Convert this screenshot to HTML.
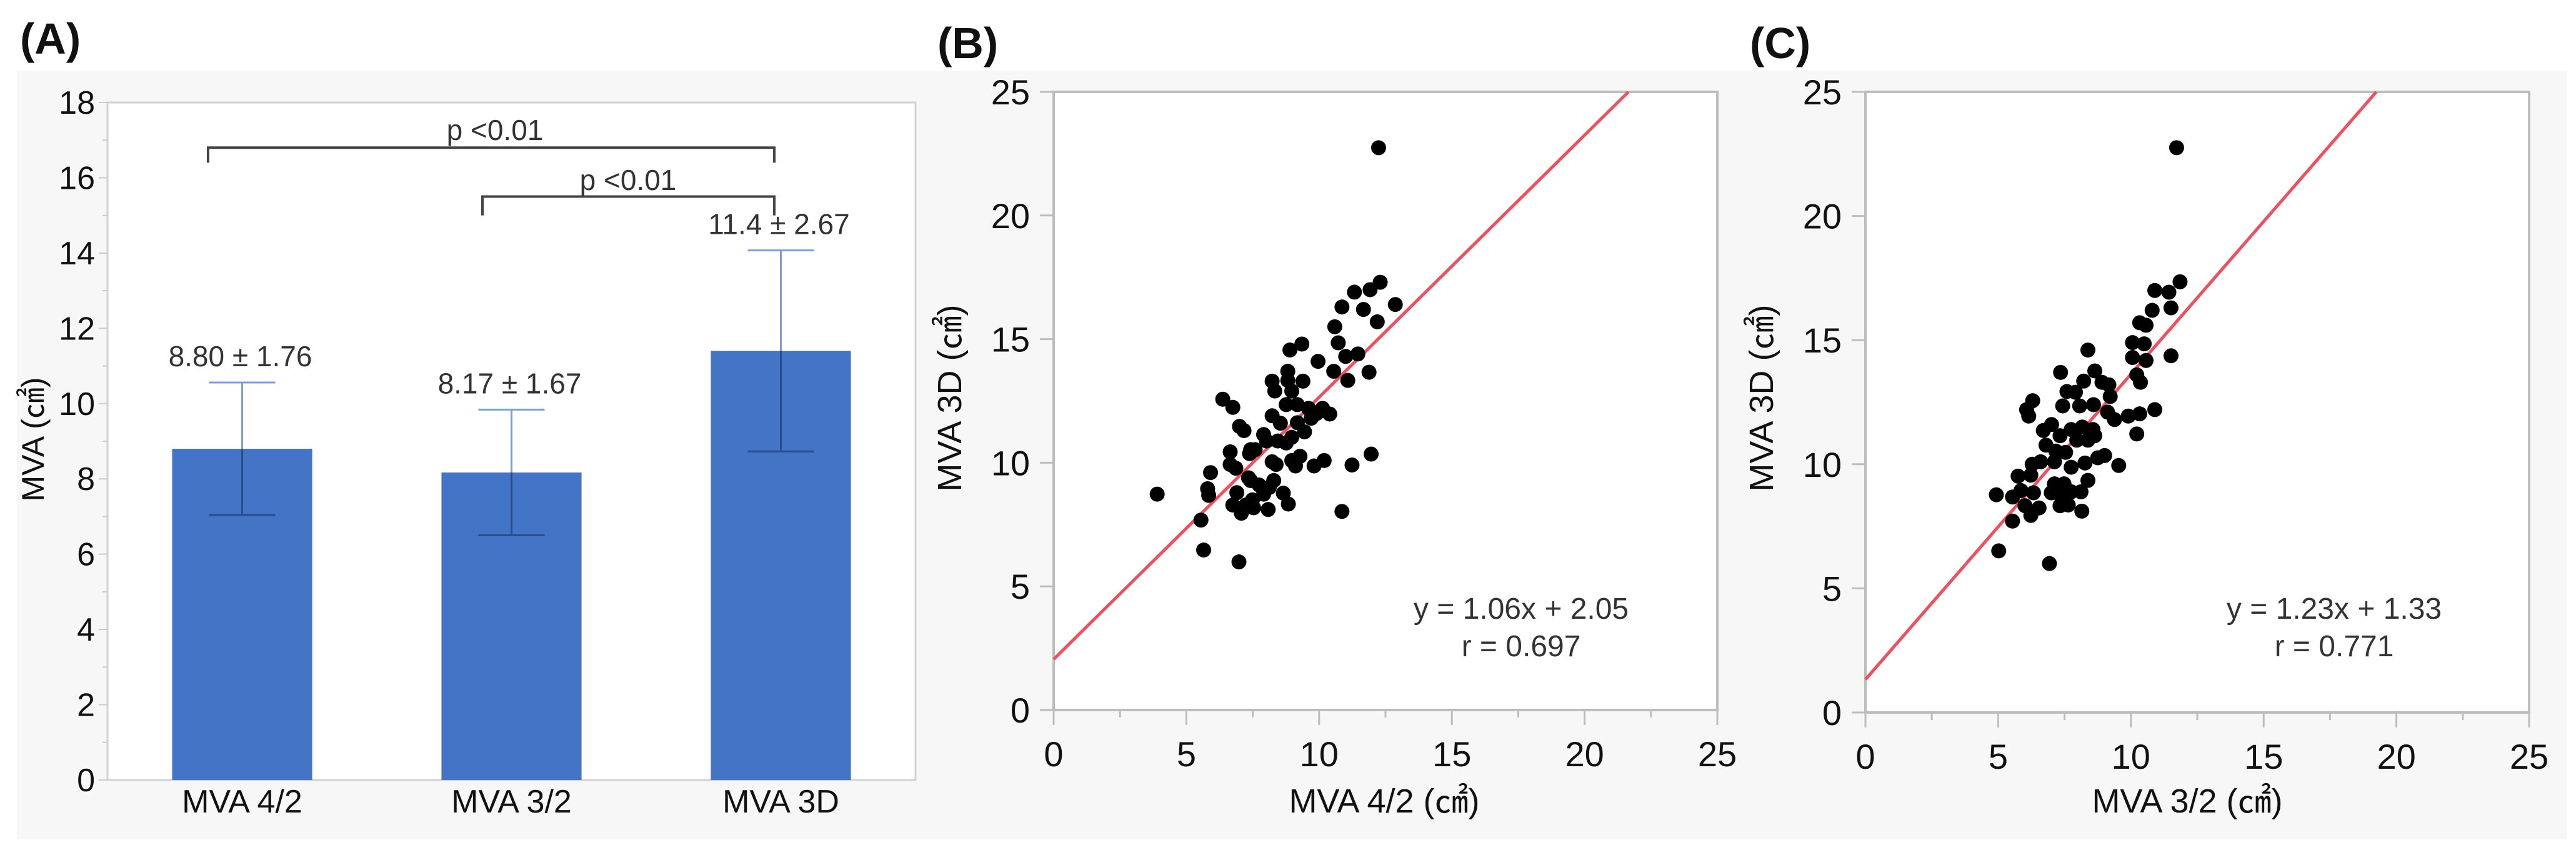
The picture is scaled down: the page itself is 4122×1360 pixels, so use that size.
<!DOCTYPE html>
<html><head><meta charset="utf-8">
<style>
html,body{margin:0;padding:0;background:#fff;}
svg{display:block;font-family:"Liberation Sans","Noto Sans CJK JP",sans-serif;}
</style></head>
<body>
<svg id="fig" width="4122" height="1360" viewBox="0 0 4122 1360" xmlns="http://www.w3.org/2000/svg">
<rect x="27" y="113" width="4080" height="1230" fill="#f7f7f7"/>
<text x="32" y="86" font-size="70" font-weight="bold" fill="#111">(A)</text>
<text x="1500" y="93" font-size="70" font-weight="bold" fill="#111">(B)</text>
<text x="2800" y="93" font-size="70" font-weight="bold" fill="#111">(C)</text>
<g id="pa"></g>
<g id="pb"></g>
<g id="pc"></g>
</svg>
<script>
// ---- Panel A data ----
const barCategories = ["MVA 4/2", "MVA 3/2", "MVA 3D"];
const barMeans = [8.80, 8.17, 11.4];
const barSDs = [1.76, 1.67, 2.67];
const barLabels = ["8.80 ± 1.76", "8.17 ± 1.67", "11.4 ± 2.67"];
const barYTicks = [0, 2, 4, 6, 8, 10, 12, 14, 16, 18];
// ---- Panel B data ----
const bX = [12.24,12.3,11.92,12.87,11.33,10.86,11.67,12.19,10.59,10.72,11.46,11.0,11.88,10.55,11.08,9.96,9.35,8.9,9.39,8.82,8.23,8.33,8.97,6.37,6.75,8.76,9.18,9.6,10.13,10.4,9.92,8.23,8.54,9.45,7.91,7.0,7.17,8.97,8.44,8.76,7.42,6.65,9.28,8.97,8.23,8.38,10.19,9.81,9.11,11.96,11.24,5.91,6.65,6.86,3.9,5.8,5.84,6.9,7.42,7.74,8.29,8.12,8.65,7.91,7.49,7.24,7.53,6.75,7.07,8.08,8.84,10.86,5.55,5.65,6.98,7.59,8.02,9.18,9.7,8.82,7.34,7.38];
const bY = [22.74,17.3,17.0,16.4,16.9,16.3,16.2,15.7,15.5,14.85,14.4,14.3,13.66,13.7,13.33,14.1,14.8,14.56,13.3,13.7,13.3,12.9,12.9,12.57,12.24,12.35,12.35,12.2,12.2,11.97,12.0,11.9,11.6,11.25,11.14,11.47,11.3,11.03,10.88,10.8,10.53,10.44,10.26,10.09,10.04,9.93,10.09,9.87,9.87,10.35,9.91,9.6,9.93,9.78,8.73,8.95,8.68,8.79,9.28,9.1,9.28,9.0,8.77,8.73,8.5,8.29,8.18,8.29,7.96,8.11,8.33,8.03,7.68,6.47,5.99,10.53,10.88,11.62,11.8,13.33,9.39,10.37];
const bFit = [1.06, 2.05];
// ---- Panel C data ----
const cX = [11.72,11.85,10.9,11.43,11.51,10.8,10.33,10.57,10.06,10.5,8.38,10.06,10.57,11.51,7.35,8.64,10.22,8.22,8.91,10.36,9.17,7.59,7.91,9.22,6.3,6.07,6.15,7.43,8.07,8.59,9.12,9.38,9.9,10.33,10.9,7.01,6.7,7.33,7.75,8.17,8.57,8.38,7.96,8.64,10.22,6.8,7.17,7.54,6.28,6.6,7.12,7.75,8.27,8.75,9.01,9.54,5.75,6.23,8.38,7.12,7.48,4.93,5.54,5.86,6.33,7.0,7.33,8.12,7.75,6.01,6.54,7.33,7.64,6.23,8.15,5.54,5.02,6.93];
const cY = [22.75,17.35,17.0,16.93,16.3,16.2,15.7,15.6,14.9,14.85,14.6,14.3,14.18,14.37,13.7,13.76,13.6,13.35,13.3,13.3,13.2,12.93,12.9,12.73,12.56,12.2,11.94,12.35,12.35,12.4,12.1,11.8,11.94,12.03,12.2,11.6,11.36,11.15,11.4,11.5,11.4,10.97,10.97,11.15,11.22,10.77,10.53,10.48,10.0,10.1,10.1,9.88,10.05,10.26,10.35,9.95,9.52,9.56,9.35,9.21,9.21,8.77,8.68,8.94,8.85,8.85,8.77,8.89,8.89,8.33,8.24,8.33,8.36,7.94,8.11,7.71,6.51,6.0];
const cFit = [1.23, 1.33];
const scatterTicks = [0, 5, 10, 15, 20, 25];

const NS = "http://www.w3.org/2000/svg";
function mk(parent, tag, attrs, text) {
  const e = document.createElementNS(NS, tag);
  for (const k in attrs) e.setAttribute(k, attrs[k]);
  if (text !== undefined) e.textContent = text;
  parent.appendChild(e);
  return e;
}

// ---------- Panel A ----------
(function () {
  const g = document.getElementById('pa');
  const L = 172, R = 1465, T = 164, B = 1248, yMax = 18;
  const y = v => B - v / yMax * (B - T);
  const band = (R - L) / barCategories.length;
  const xc = i => L + band * (i + 0.5);
  const bw = band * 0.52;
  const frame = mk(g, 'rect', {x: L, y: T, width: R - L, height: B - T, fill: '#fff', stroke: '#d2d2d2', 'stroke-width': 3});
  
  
  for (let v = 1; v < yMax; v += 2) {
    const t = mk(g, 'line', {x1: L - 8, x2: L, y1: y(v), y2: y(v), stroke: '#ccc', 'stroke-width': 2});
    
    
  }
  barYTicks.forEach(v => {
    const t = mk(g, 'line', {x1: L - 14, x2: L, y1: y(v), y2: y(v), stroke: '#ccc', 'stroke-width': 2});
    
    
    const lb = mk(g, 'text', {x: L - 20, y: y(v) + 18, 'font-size': 52, 'text-anchor': 'end', fill: '#111'}, String(v));
    
    
  });
  barCategories.forEach((c, i) => {
    const r = mk(g, 'rect', {x: xc(i) - bw / 2, y: y(barMeans[i]), width: bw, height: B - y(barMeans[i]), fill: '#4474c6'});
    
    
    const hi = barMeans[i] + barSDs[i], lo = barMeans[i] - barSDs[i];
    const cw = 53;
    const e1 = mk(g, 'path', {d: `M${xc(i)},${y(barMeans[i])}V${y(hi)}M${xc(i) - cw},${y(hi)}H${xc(i) + cw}`, stroke: '#7e9ddb', 'stroke-width': 3, fill: 'none'});
    
    
    const e2 = mk(g, 'path', {d: `M${xc(i)},${y(barMeans[i])}V${y(lo)}M${xc(i) - cw},${y(lo)}H${xc(i) + cw}`, stroke: '#2c4c88', 'stroke-width': 3, fill: 'none'});
    
    
    const vl = mk(g, 'text', {x: xc(i) - 3, y: y(hi) - 26, 'font-size': 46, 'text-anchor': 'middle', fill: '#333'}, barLabels[i]);
    
    
    const cl = mk(g, 'text', {x: xc(i), y: 1300, 'font-size': 52, 'text-anchor': 'middle', fill: '#111'}, c);
    
    
  });
  // significance brackets
  const br1 = mk(g, 'path', {d: `M333,${y(16.4)}V${y(16.8)}H1239V${y(16.4)}`, stroke: '#444', 'stroke-width': 4, fill: 'none'});
  
  
  const p1 = mk(g, 'text', {x: 792, y: 224, 'font-size': 46, 'text-anchor': 'middle', fill: '#333'}, 'p <0.01');
  
  
  const br2 = mk(g, 'path', {d: `M772,${y(15.0)}V${y(15.5)}H1239V${y(15.0)}`, stroke: '#444', 'stroke-width': 4, fill: 'none'});
  
  
  const p2 = mk(g, 'text', {x: 1005, y: 304, 'font-size': 46, 'text-anchor': 'middle', fill: '#333'}, 'p <0.01');
  
  
  const yt = mk(g, 'text', {x: 0, y: 0, 'font-size': 50, 'text-anchor': 'middle', fill: '#111', transform: 'translate(70,703) rotate(-90)'}, 'MVA (㎠)');
  
  
})();

// ---------- Scatter panels ----------
function scatter(gid, L, T, B, xs, ys, fit, eq, rtxt, xTitle, xTitleX, eqX) {
  const g = document.getElementById(gid);
  const W = 1062, max = 25;
  const R = L + W;
  const sx = v => L + v / max * W;
  const sy = v => B - v / max * (B - T);
  const fr = mk(g, 'rect', {x: L, y: T, width: W, height: B - T, fill: '#fff', stroke: '#bdbdbd', 'stroke-width': 4});
  
  
  for (let v = 2.5; v < max; v += 5) {
    const t1 = mk(g, 'line', {x1: sx(v), x2: sx(v), y1: B, y2: B + 12, stroke: '#bdbdbd', 'stroke-width': 3});
    
    
  }
  scatterTicks.forEach(v => {
    const t1 = mk(g, 'line', {x1: sx(v), x2: sx(v), y1: B, y2: B + 24, stroke: '#bdbdbd', 'stroke-width': 3});
    
    
    const l1 = mk(g, 'text', {x: sx(v), y: B + 90, 'font-size': 56, 'text-anchor': 'middle', fill: '#111'}, String(v));
    
    
    const t2 = mk(g, 'line', {x1: L - 22, x2: L, y1: sy(v), y2: sy(v), stroke: '#bdbdbd', 'stroke-width': 3});
    
    
    const l2 = mk(g, 'text', {x: L - 38, y: sy(v) + 20, 'font-size': 56, 'text-anchor': 'end', fill: '#111'}, String(v));
    
    
  });
  const xEnd = Math.min(max, (max - fit[1]) / fit[0]);
  const ln = mk(g, 'line', {x1: sx(0), y1: sy(fit[1]), x2: sx(xEnd), y2: sy(fit[0] * xEnd + fit[1]), stroke: '#f0505e', 'stroke-width': 5});
  
  
  xs.forEach((v, i) => {
    const c = mk(g, 'circle', {cx: sx(v), cy: sy(ys[i]), r: 12, fill: '#000'});
    
    
  });
  const e = mk(g, 'text', {x: eqX, y: 990, 'font-size': 48, 'text-anchor': 'middle', fill: '#333'}, eq);
  
  
  const r = mk(g, 'text', {x: eqX, y: 1050, 'font-size': 48, 'text-anchor': 'middle', fill: '#333'}, rtxt);
  
  
  const xt = mk(g, 'text', {x: xTitleX, y: 1300, 'font-size': 54, 'text-anchor': 'middle', fill: '#111'}, xTitle);
  
  
  const yt = mk(g, 'text', {x: 0, y: 0, 'font-size': 54, 'text-anchor': 'middle', fill: '#111', transform: `translate(${L - 148},637) rotate(-90)`}, 'MVA 3D (㎠)');
  
  
}
scatter('pb', 1686, 147, 1136, bX, bY, bFit, 'y = 1.06x + 2.05', 'r = 0.697', 'MVA 4/2 (㎠)', 2215, 2434);
scatter('pc', 2985, 147, 1140, cX, cY, cFit, 'y = 1.23x + 1.33', 'r = 0.771', 'MVA 3/2 (㎠)', 3500, 3735);
</script>
</body></html>
